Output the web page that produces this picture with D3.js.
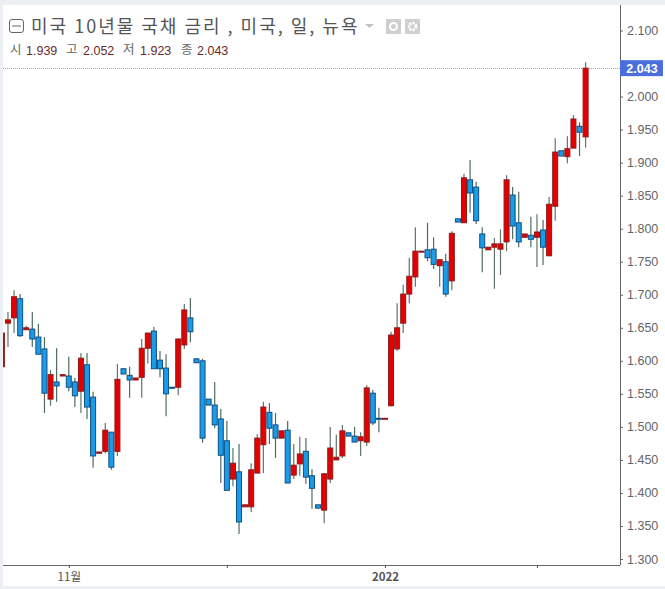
<!DOCTYPE html>
<html><head><meta charset="utf-8">
<script src="https://cdn.jsdelivr.net/npm/d3@7"></script>
<style>html,body{margin:0;padding:0;background:#fff}svg{display:block}</style>
</head><body><svg id="c" width="665" height="589"></svg>
<script>
const opens=[1.591,1.657,1.665,1.694,1.647,1.648,1.636,1.618,1.542,1.568,1.577,1.577,1.568,1.554,1.594,1.545,1.460,1.463,1.492,1.463,1.588,1.578,1.571,1.575,1.619,1.645,1.601,1.589,1.560,1.560,1.624,1.665,1.603,1.600,1.542,1.533,1.512,1.479,1.421,1.432,1.379,1.379,1.430,1.473,1.522,1.503,1.483,1.495,1.427,1.444,1.463,1.426,1.382,1.374,1.421,1.450,1.456,1.491,1.486,1.479,1.477,1.551,1.513,1.512,1.532,1.618,1.657,1.701,1.727,1.765,1.768,1.769,1.744,1.750,1.721,1.815,1.809,1.874,1.863,1.792,1.768,1.772,1.769,1.780,1.851,1.809,1.787,1.790,1.787,1.798,1.759,1.834,1.918,1.909,1.922,1.955,1.939];
const highs=[1.642,1.674,1.707,1.701,1.653,1.674,1.656,1.636,1.586,1.619,1.579,1.606,1.574,1.612,1.612,1.553,1.462,1.506,1.492,1.595,1.588,1.591,1.574,1.633,1.642,1.651,1.615,1.610,1.560,1.634,1.686,1.695,1.604,1.603,1.542,1.568,1.527,1.509,1.468,1.474,1.382,1.445,1.489,1.538,1.536,1.521,1.494,1.509,1.474,1.485,1.483,1.436,1.382,1.430,1.500,1.488,1.503,1.491,1.500,1.492,1.563,1.556,1.529,1.513,1.644,1.687,1.715,1.756,1.802,1.766,1.809,1.787,1.753,1.762,1.796,1.815,1.883,1.904,1.871,1.802,1.772,1.786,1.799,1.881,1.863,1.856,1.792,1.818,1.822,1.813,1.848,1.937,1.918,1.940,1.972,1.961,2.052];
const lows=[1.591,1.621,1.642,1.636,1.647,1.621,1.610,1.521,1.532,1.538,1.577,1.554,1.530,1.521,1.512,1.438,1.460,1.460,1.435,1.456,1.580,1.544,1.571,1.544,1.596,1.588,1.575,1.516,1.559,1.548,1.618,1.628,1.597,1.476,1.533,1.498,1.415,1.404,1.410,1.338,1.379,1.371,1.430,1.430,1.474,1.453,1.483,1.415,1.421,1.426,1.414,1.376,1.377,1.354,1.415,1.450,1.453,1.486,1.477,1.456,1.471,1.503,1.492,1.512,1.531,1.615,1.642,1.687,1.712,1.765,1.751,1.739,1.712,1.697,1.707,1.810,1.809,1.824,1.807,1.734,1.768,1.709,1.730,1.766,1.784,1.772,1.787,1.772,1.742,1.745,1.759,1.812,1.910,1.899,1.922,1.910,1.923];
const closes=[1.642,1.662,1.697,1.638,1.650,1.633,1.610,1.551,1.579,1.562,1.579,1.560,1.547,1.604,1.530,1.456,1.462,1.495,1.439,1.572,1.580,1.571,1.574,1.619,1.642,1.588,1.588,1.550,1.559,1.633,1.677,1.644,1.597,1.483,1.533,1.503,1.457,1.404,1.445,1.356,1.382,1.435,1.483,1.530,1.498,1.483,1.494,1.415,1.442,1.459,1.424,1.407,1.377,1.429,1.468,1.454,1.494,1.486,1.477,1.485,1.559,1.506,1.512,1.513,1.639,1.650,1.701,1.728,1.766,1.766,1.756,1.746,1.753,1.701,1.793,1.810,1.877,1.854,1.812,1.771,1.772,1.777,1.777,1.874,1.804,1.780,1.792,1.784,1.795,1.772,1.837,1.916,1.910,1.921,1.966,1.946,2.043];
const priceTicks=[1.3,1.35,1.4,1.45,1.5,1.55,1.6,1.65,1.7,1.75,1.8,1.85,1.9,1.95,2.0,2.1];
const dateTickIndex=[11,37,63,88];
const dateTickLabels=["11월","","2022",""];
const titleText="미국 10년물 국채 금리 , 미국, 일, 뉴욕";
const ohlcLabels=["시","고","저","종"];
const lastPrice=2.043;

const svg=d3.select("#c");
const L=3,R=620,T=5,B=565;
const sans="'Liberation Sans',Arial,sans-serif", kr="'Noto Sans CJK KR','Noto Sans',sans-serif";
const x=d3.scaleLinear().domain([0,96]).range([1.9,585.6]);
const y=d3.scaleLinear().domain([1.3,2.1]).range([559,30.5]);

// frame
svg.append("rect").attr("width",665).attr("height",589).attr("fill","#eceff3");
svg.append("rect").attr("x",L).attr("y",T).attr("width",662).attr("height",B+21-T).attr("fill","#fff");
svg.append("defs").append("clipPath").attr("id","pl").append("rect").attr("x",L).attr("y",T).attr("width",R-L).attr("height",B-T);

// last price line
svg.append("line").attr("x1",L).attr("x2",R).attr("y1",y(lastPrice)).attr("y2",y(lastPrice))
  .attr("stroke","#8ea6de").attr("stroke-width",1).attr("stroke-dasharray","1 1").attr("shape-rendering","crispEdges");

// candles
const G=svg.append("g").attr("clip-path","url(#pl)");
const idx=d3.range(opens.length);
const isUp=i=>closes[i]>=opens[i];
G.selectAll("line.w").data(idx).join("line").attr("class","w")
  .attr("x1",i=>x(i)).attr("x2",i=>x(i)).attr("y1",i=>y(highs[i])).attr("y2",i=>y(lows[i]))
  .attr("stroke",i=>isUp(i)?"#5f7568":"#4d6b60").attr("stroke-width",1.2);
G.selectAll("rect.b").data(idx).join("rect").attr("class","b")
  .attr("x",i=>x(i)-2.5).attr("width",5)
  .attr("y",i=>y(Math.max(opens[i],closes[i])))
  .attr("height",i=>Math.max(1,Math.abs(y(opens[i])-y(closes[i]))))
  .attr("fill",i=>isUp(i)?"#e40000":"#1a9bea")
  .attr("stroke",i=>isUp(i)?"#8c1a1a":"#0f4f80").attr("stroke-width",1);

// axes
const ax=d3.axisRight(y).tickValues(priceTicks).tickFormat(d3.format(".3f")).tickSize(3).tickSizeOuter(0).tickPadding(4);
const gy=svg.append("g").attr("transform",`translate(${R},0)`).call(ax);
gy.select(".domain").attr("d",`M0.5,${T}V${B}`).attr("stroke","#666");
gy.selectAll("line").attr("stroke","#666");
gy.selectAll("text").attr("font-family",sans).attr("font-size",12.5).attr("fill","#666");

const bx=d3.axisBottom(x).tickValues(dateTickIndex).tickFormat((d,i)=>dateTickLabels[i]).tickSize(3).tickSizeOuter(0).tickPadding(5);
const gx=svg.append("g").attr("transform",`translate(0,${B})`).call(bx);
gx.select(".domain").attr("d",`M${L},0.5H${R}`).attr("stroke","#666");
gx.selectAll("line").attr("stroke","#555");
gx.selectAll("text").attr("font-family",kr).attr("font-size",11.5).attr("fill","#555")
  .attr("font-weight",(d,i)=>dateTickLabels[i]==="2022"?"700":"400");

// last price tag
svg.append("rect").attr("x",R).attr("y",y(lastPrice)-8).attr("width",43).attr("height",16).attr("fill","#4a6fdc");
svg.append("text").attr("x",R+22).attr("y",y(lastPrice)+4.5).attr("text-anchor","middle")
  .attr("font-family",sans).attr("font-size",12.5).attr("font-weight",700).attr("fill","#fff").text(d3.format(".3f")(lastPrice));

// header
const h=svg.append("g");
h.append("rect").attr("x",9.5).attr("y",19.5).attr("width",14).attr("height",13).attr("rx",2.5).attr("fill","#fff").attr("stroke","#666");
h.append("line").attr("x1",12).attr("x2",21).attr("y1",26).attr("y2",26).attr("stroke","#666");
h.append("text").attr("x",31).attr("y",33).attr("font-family",kr).attr("font-size",18).attr("letter-spacing",2).attr("fill","#555").text(titleText);
h.append("path").attr("d","M365,24h9l-4.5,4z").attr("fill","#c4c4c4");
h.append("rect").attr("x",386).attr("y",19).attr("width",15).attr("height",15).attr("fill","#cfcfcf");
h.append("circle").attr("cx",393.5).attr("cy",26.5).attr("r",3.5).attr("fill","none").attr("stroke","#fff").attr("stroke-width",2);
h.append("rect").attr("x",405).attr("y",19).attr("width",15).attr("height",15).attr("fill","#cfcfcf");
h.append("circle").attr("cx",412.5).attr("cy",26.5).attr("r",3.5).attr("fill","none").attr("stroke","#fff").attr("stroke-width",2.6).attr("stroke-dasharray","2.2 1");

const last=opens.length-1;
const vals=[opens[last],highs[last],lows[last],closes[last]];
const sx=[10,66,123,181], vx=[26,83,140,197];
ohlcLabels.forEach((t,i)=>{
  h.append("text").attr("x",sx[i]).attr("y",54).attr("font-family",kr).attr("font-size",12.5).attr("fill","#666").text(t);
  h.append("text").attr("x",vx[i]).attr("y",55).attr("font-family",sans).attr("font-size",12.5).attr("fill","#6b2a2a").text(d3.format(".3f")(vals[i]));
});
</script></body></html>
